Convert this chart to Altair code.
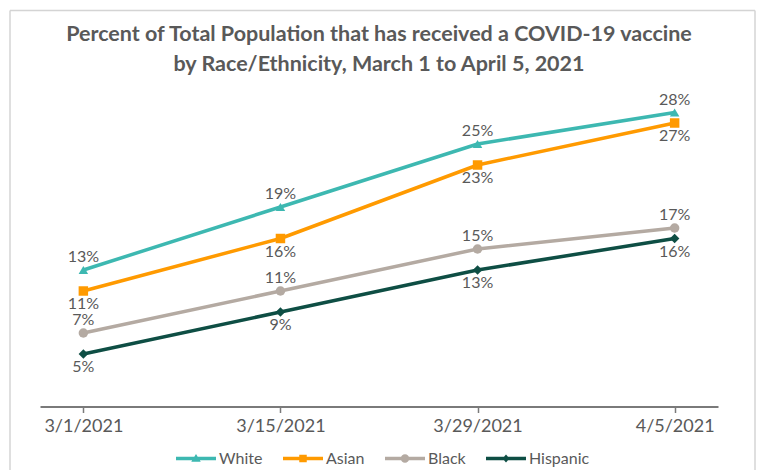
import altair as alt
import pandas as pd

dates = ["3/1/2021", "3/15/2021", "3/29/2021", "4/5/2021"]
series = ["White", "Asian", "Black", "Hispanic"]
white = [13, 19, 25, 28]
asian = [11, 16, 23, 27]
black = [7, 11, 15, 17]
hispanic = [5, 9, 13, 16]

colors = ["#3DB8B1", "#FF9A00", "#B4AAA2", "#0E4E44"]
plot_shapes = ["triangle-up", "square", "circle", "diamond"]
legend_shapes = [
    "M-1,-0.35 H7 V0.35 H-1 Z M3,-0.9 L3.95,0.65 L2.05,0.65 Z",
    "M-1,-0.35 H7 V0.35 H-1 Z M2.25,-0.75 H3.75 V0.75 H2.25 Z",
    "M-1,-0.35 H7 V0.35 H-1 Z M2.15,0 A0.85,0.85 0 1,1 3.85,0 A0.85,0.85 0 1,1 2.15,0 Z",
    "M-1,-0.35 H7 V0.35 H-1 Z M3,-0.8 L3.7,0 L3,0.8 L2.3,0 Z",
]
above = ["White", "Black"]

rows = []
for name, vals in zip(series, [white, asian, black, hispanic]):
    for d, v in zip(dates, vals):
        rows.append({"date": d, "series": name, "pct": v})
df = pd.DataFrame(rows)

FONT = "Lato"
TXT = "#595959"

x_enc = alt.X("date:O", sort=dates, title=None,
              scale=alt.Scale(type="point", padding=0.22),
              axis=alt.Axis(labelAngle=0, labelFontSize=18, labelColor=TXT, labelFont=FONT,
                            domainColor="#7a7a7a", domainWidth=2, tickColor="#7a7a7a",
                            tickWidth=1.5, tickSize=6, labelPadding=5, grid=False))
y_enc = alt.Y("pct:Q", scale=alt.Scale(domain=[0, 30]), axis=None)
color_scale = alt.Scale(domain=series, range=colors)

base = alt.Chart(df)

lines = base.mark_line(strokeWidth=3.5).encode(
    x=x_enc, y=y_enc,
    color=alt.Color("series:N", scale=color_scale, legend=None),
    detail="series:N",
)

points = base.mark_point(filled=True, size=90, opacity=1).encode(
    x=x_enc, y=y_enc,
    color=alt.Color("series:N", scale=color_scale, legend=None),
    shape=alt.Shape("series:N", scale=alt.Scale(domain=series, range=plot_shapes), legend=None),
)

leg = alt.Legend(title=None, orient="none", legendX=133, legendY=359, direction="horizontal",
                 columns=4, labelFontSize=16, labelColor=TXT, labelFont=FONT,
                 labelOffset=30, columnPadding=17, symbolSize=100, symbolStrokeWidth=0)

legend_layer = base.mark_point(filled=True, size=100, opacity=1).encode(
    x=x_enc, y=y_enc,
    color=alt.Color("series:N", scale=alt.Scale(domain=series, range=colors), legend=leg),
    shape=alt.Shape("series:N", scale=alt.Scale(domain=series, range=legend_shapes), legend=leg),
).transform_filter("datum.pct < 0")

labels_above = base.mark_text(fontSize=16, font=FONT, color=TXT, baseline="middle", dy=-13).encode(
    x=x_enc, y=y_enc, text="label:N",
).transform_filter(alt.FieldOneOfPredicate(field="series", oneOf=above)).transform_calculate(
    label="datum.pct + '%'")

labels_below = base.mark_text(fontSize=16, font=FONT, color=TXT, baseline="middle", dy=13).encode(
    x=x_enc, y=y_enc, text="label:N",
).transform_filter(alt.FieldOneOfPredicate(field="series", oneOf=[s for s in series if s not in above])).transform_calculate(
    label="datum.pct + '%'")

# decorative outer border of the figure (pixel offsets from the plot origin)
frame_edges = alt.Data(values=[
    {"fx": -30, "fx2": 715, "fy": -81, "fy2": -81},
    {"fx": -30, "fx2": -30, "fy": -81, "fy2": 420},
    {"fx": 715, "fx2": 715, "fy": -81, "fy2": 420},
])
frame = alt.Chart(frame_edges).mark_rule(color="#d4d4d4", strokeWidth=1.5).encode(
    x=alt.X("fx:Q", scale=None), x2="fx2:Q",
    y=alt.Y("fy:Q", scale=None), y2="fy2:Q")

chart = alt.layer(frame, lines, points, legend_layer, labels_above, labels_below).resolve_scale(
    shape="independent", color="independent"
).properties(
    width=678, height=315,
    padding={"left": 40, "top": 91.5, "right": 42, "bottom": 63.5},
    autosize=alt.AutoSizeParams(type="none"),
    title=alt.TitleParams(
        ["Percent of Total Population that has received a COVID-19 vaccine",
         "by Race/Ethnicity, March 1 to April 5, 2021"],
        font=FONT, fontSize=21.5, fontWeight="bold", color=TXT, lineHeight=30,
        anchor="middle", frame="group", offset=-66),
).configure_view(
    stroke="transparent", strokeWidth=0
).configure_axisY(domain=False, grid=False, ticks=False, labels=False)

chart.save("out.html", embed_options={"renderer": "svg", "actions": False})
